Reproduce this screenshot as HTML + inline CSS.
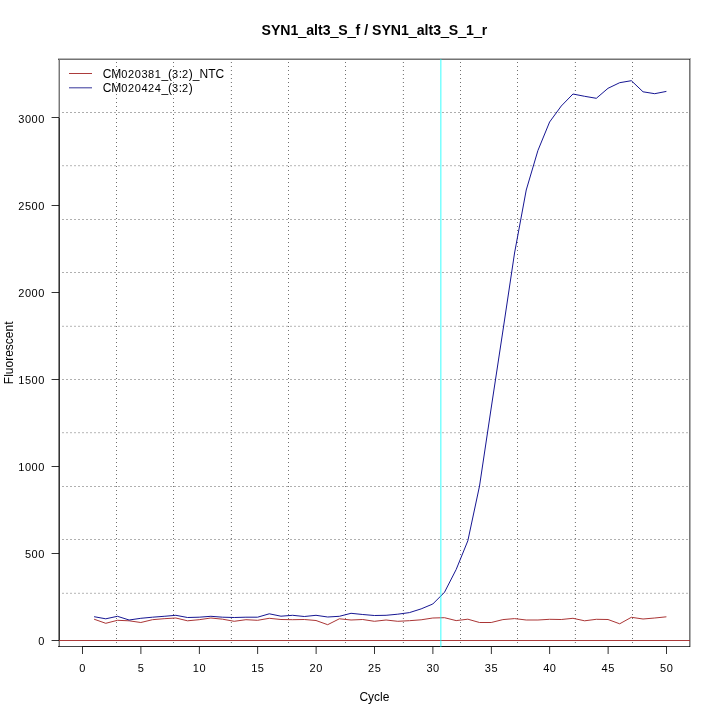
<!DOCTYPE html>
<html><head><meta charset="utf-8"><title>SYN1_alt3_S_f / SYN1_alt3_S_1_r</title>
<style>
html,body{margin:0;padding:0;background:#fff;overflow:hidden;}
svg{display:block;}
text{font-family:"Liberation Sans",Arial,Helvetica,sans-serif;font-size:12px;fill:#000;}
.t{font-weight:bold;font-size:14.1px;}
.d{font-size:11.0px;letter-spacing:0.556px;}
</style></head><body>
<svg width="720" height="720" viewBox="0 0 720 720">
<rect x="0" y="0" width="720" height="720" fill="#fff"/>
<g shape-rendering="crispEdges">
<line x1="116.5" y1="62" x2="116.5" y2="646" stroke="#000" stroke-opacity="0.56" stroke-width="1" stroke-dasharray="1 3"/>
<line x1="173.5" y1="62" x2="173.5" y2="646" stroke="#000" stroke-opacity="0.56" stroke-width="1" stroke-dasharray="1 3"/>
<line x1="230.5" y1="62" x2="230.5" y2="646" stroke="#000" stroke-opacity="0.08" stroke-width="1" stroke-dasharray="1 3"/>
<line x1="231.5" y1="62" x2="231.5" y2="646" stroke="#000" stroke-opacity="0.51" stroke-width="1" stroke-dasharray="1 3"/>
<line x1="288.5" y1="62" x2="288.5" y2="646" stroke="#000" stroke-opacity="0.56" stroke-width="1" stroke-dasharray="1 3"/>
<line x1="345.5" y1="62" x2="345.5" y2="646" stroke="#000" stroke-opacity="0.56" stroke-width="1" stroke-dasharray="1 3"/>
<line x1="402.5" y1="62" x2="402.5" y2="646" stroke="#000" stroke-opacity="0.08" stroke-width="1" stroke-dasharray="1 3"/>
<line x1="403.5" y1="62" x2="403.5" y2="646" stroke="#000" stroke-opacity="0.51" stroke-width="1" stroke-dasharray="1 3"/>
<line x1="460.5" y1="62" x2="460.5" y2="646" stroke="#000" stroke-opacity="0.56" stroke-width="1" stroke-dasharray="1 3"/>
<line x1="517.5" y1="62" x2="517.5" y2="646" stroke="#000" stroke-opacity="0.56" stroke-width="1" stroke-dasharray="1 3"/>
<line x1="574.5" y1="62" x2="574.5" y2="646" stroke="#000" stroke-opacity="0.08" stroke-width="1" stroke-dasharray="1 3"/>
<line x1="575.5" y1="62" x2="575.5" y2="646" stroke="#000" stroke-opacity="0.51" stroke-width="1" stroke-dasharray="1 3"/>
<line x1="632.5" y1="62" x2="632.5" y2="646" stroke="#000" stroke-opacity="0.56" stroke-width="1" stroke-dasharray="1 3"/>
<line x1="62" y1="112.5" x2="688" y2="112.5" stroke="#000" stroke-opacity="0.320" stroke-width="1" stroke-dasharray="2 2"/>
<line x1="62" y1="165.5" x2="688" y2="165.5" stroke="#000" stroke-opacity="0.230" stroke-width="1" stroke-dasharray="2 2"/>
<line x1="62" y1="166.5" x2="688" y2="166.5" stroke="#000" stroke-opacity="0.060" stroke-width="1" stroke-dasharray="2 2"/>
<line x1="62" y1="219.5" x2="688" y2="219.5" stroke="#000" stroke-opacity="0.310" stroke-width="1" stroke-dasharray="2 2"/>
<line x1="62" y1="272.5" x2="688" y2="272.5" stroke="#000" stroke-opacity="0.310" stroke-width="1" stroke-dasharray="2 2"/>
<line x1="62" y1="325.5" x2="688" y2="325.5" stroke="#000" stroke-opacity="0.060" stroke-width="1" stroke-dasharray="2 2"/>
<line x1="62" y1="326.5" x2="688" y2="326.5" stroke="#000" stroke-opacity="0.230" stroke-width="1" stroke-dasharray="2 2"/>
<line x1="62" y1="379.5" x2="688" y2="379.5" stroke="#000" stroke-opacity="0.310" stroke-width="1" stroke-dasharray="2 2"/>
<line x1="62" y1="432.5" x2="688" y2="432.5" stroke="#000" stroke-opacity="0.230" stroke-width="1" stroke-dasharray="2 2"/>
<line x1="62" y1="433.5" x2="688" y2="433.5" stroke="#000" stroke-opacity="0.060" stroke-width="1" stroke-dasharray="2 2"/>
<line x1="62" y1="486.5" x2="688" y2="486.5" stroke="#000" stroke-opacity="0.310" stroke-width="1" stroke-dasharray="2 2"/>
<line x1="62" y1="539.5" x2="688" y2="539.5" stroke="#000" stroke-opacity="0.310" stroke-width="1" stroke-dasharray="2 2"/>
<line x1="62" y1="592.5" x2="688" y2="592.5" stroke="#000" stroke-opacity="0.060" stroke-width="1" stroke-dasharray="2 2"/>
<line x1="62" y1="593.5" x2="688" y2="593.5" stroke="#000" stroke-opacity="0.230" stroke-width="1" stroke-dasharray="2 2"/>
</g>
<polyline fill="none" stroke="#a52a2a" stroke-width="0.95" stroke-linejoin="round" points="94.08,619.20 105.76,623.30 117.44,620.30 129.12,620.80 140.80,622.50 152.48,619.70 164.16,618.70 175.84,618.00 187.52,620.80 199.20,619.70 210.88,618.00 222.56,619.20 234.24,621.30 245.92,619.70 257.60,620.30 269.28,618.30 280.96,619.50 292.64,619.70 304.32,619.50 316.00,620.50 327.68,624.70 339.36,618.80 351.04,620.00 362.72,619.50 374.40,621.30 386.08,620.00 397.76,621.30 409.44,620.70 421.12,619.80 432.80,618.00 444.48,617.70 456.16,620.60 467.84,619.20 479.52,622.50 491.20,622.50 502.88,619.60 514.56,618.60 526.24,620.00 537.92,620.00 549.60,619.30 561.28,619.50 572.96,618.30 584.64,620.80 596.32,619.30 608.00,619.50 619.68,623.80 631.36,617.30 643.04,619.00 654.72,618.00 666.40,616.80"/>
<polyline fill="none" stroke="#0a0a8c" stroke-width="0.95" stroke-linejoin="round" points="94.08,616.70 105.76,618.80 117.44,616.30 129.12,620.00 140.80,618.30 152.48,617.20 164.16,616.30 175.84,615.30 187.52,617.50 199.20,617.20 210.88,616.30 222.56,617.20 234.24,617.50 245.92,617.20 257.60,617.20 269.28,613.80 280.96,616.20 292.64,615.30 304.32,616.50 316.00,615.30 327.68,617.00 339.36,616.30 351.04,613.30 362.72,614.50 374.40,615.50 386.08,615.30 397.76,614.20 409.44,612.60 421.12,608.90 432.80,604.00 444.48,592.30 456.16,569.50 467.84,540.80 479.52,486.00 491.20,408.00 502.88,331.00 514.56,253.00 526.24,190.00 537.92,150.50 549.60,122.00 561.28,106.00 572.96,94.00 584.64,96.30 596.32,98.30 608.00,88.30 619.68,82.70 631.36,80.70 643.04,91.80 654.72,93.70 666.40,91.40"/>
<rect x="58" y="58" width="632" height="1" fill="#000" fill-opacity="0.280"/>
<rect x="58" y="59" width="632" height="1" fill="#000" fill-opacity="0.550"/>
<rect x="689" y="59" width="1" height="588" fill="#000" fill-opacity="0.530"/>
<rect x="690" y="58" width="1" height="589" fill="#000" fill-opacity="0.310"/>
<rect x="58" y="59" width="1" height="588" fill="#000" fill-opacity="0.250"/>
<rect x="59" y="60" width="1" height="587" fill="#000" fill-opacity="0.530"/>
<rect x="58" y="646" width="632" height="1" fill="#000" fill-opacity="0.730"/>
<rect x="58" y="118" width="1" height="523" fill="#000" fill-opacity="0.280"/>
<rect x="59" y="118" width="1" height="523" fill="#000" fill-opacity="0.570"/>
<rect x="82" y="646" width="585" height="1" fill="#000" fill-opacity="0.740"/>
<rect x="59" y="640" width="631" height="1" fill="#a52a2a" fill-opacity="0.920"/>
<rect x="82" y="647" width="1" height="7" fill="#000" fill-opacity="0.800"/>
<rect x="140" y="647" width="1" height="7" fill="#000" fill-opacity="0.500"/>
<rect x="141" y="647" width="1" height="7" fill="#000" fill-opacity="0.300"/>
<rect x="198" y="647" width="1" height="7" fill="#000" fill-opacity="0.100"/>
<rect x="199" y="647" width="1" height="7" fill="#000" fill-opacity="0.700"/>
<rect x="257" y="647" width="1" height="7" fill="#000" fill-opacity="0.700"/>
<rect x="258" y="647" width="1" height="7" fill="#000" fill-opacity="0.100"/>
<rect x="315" y="647" width="1" height="7" fill="#000" fill-opacity="0.300"/>
<rect x="316" y="647" width="1" height="7" fill="#000" fill-opacity="0.500"/>
<rect x="374" y="647" width="1" height="7" fill="#000" fill-opacity="0.800"/>
<rect x="432" y="647" width="1" height="7" fill="#000" fill-opacity="0.500"/>
<rect x="433" y="647" width="1" height="7" fill="#000" fill-opacity="0.300"/>
<rect x="490" y="647" width="1" height="7" fill="#000" fill-opacity="0.100"/>
<rect x="491" y="647" width="1" height="7" fill="#000" fill-opacity="0.700"/>
<rect x="549" y="647" width="1" height="7" fill="#000" fill-opacity="0.700"/>
<rect x="550" y="647" width="1" height="7" fill="#000" fill-opacity="0.100"/>
<rect x="607" y="647" width="1" height="7" fill="#000" fill-opacity="0.300"/>
<rect x="608" y="647" width="1" height="7" fill="#000" fill-opacity="0.500"/>
<rect x="666" y="647" width="1" height="7" fill="#000" fill-opacity="0.800"/>
<rect x="52" y="640" width="7" height="1" fill="#000" fill-opacity="0.800"/>
<rect x="51" y="640" width="1" height="1" fill="#000" fill-opacity="0.350"/>
<rect x="52" y="553" width="7" height="1" fill="#000" fill-opacity="0.800"/>
<rect x="51" y="553" width="1" height="1" fill="#000" fill-opacity="0.350"/>
<rect x="52" y="466" width="7" height="1" fill="#000" fill-opacity="0.800"/>
<rect x="51" y="466" width="1" height="1" fill="#000" fill-opacity="0.350"/>
<rect x="52" y="379" width="7" height="1" fill="#000" fill-opacity="0.800"/>
<rect x="51" y="379" width="1" height="1" fill="#000" fill-opacity="0.350"/>
<rect x="52" y="292" width="7" height="1" fill="#000" fill-opacity="0.800"/>
<rect x="51" y="292" width="1" height="1" fill="#000" fill-opacity="0.350"/>
<rect x="52" y="205" width="7" height="1" fill="#000" fill-opacity="0.800"/>
<rect x="51" y="205" width="1" height="1" fill="#000" fill-opacity="0.350"/>
<rect x="52" y="117" width="7" height="1" fill="#000" fill-opacity="0.800"/>
<rect x="51" y="117" width="1" height="1" fill="#000" fill-opacity="0.350"/>
<g>
<text class="d" x="82.68" y="672.3" text-anchor="middle">0</text>
<text class="d" x="141.08" y="672.3" text-anchor="middle">5</text>
<text class="d" x="199.48" y="672.3" text-anchor="middle">10</text>
<text class="d" x="257.88" y="672.3" text-anchor="middle">15</text>
<text class="d" x="316.28" y="672.3" text-anchor="middle">20</text>
<text class="d" x="374.68" y="672.3" text-anchor="middle">25</text>
<text class="d" x="433.08" y="672.3" text-anchor="middle">30</text>
<text class="d" x="491.48" y="672.3" text-anchor="middle">35</text>
<text class="d" x="549.88" y="672.3" text-anchor="middle">40</text>
<text class="d" x="608.28" y="672.3" text-anchor="middle">45</text>
<text class="d" x="666.68" y="672.3" text-anchor="middle">50</text>
<text class="d" x="44.96" y="644.90" text-anchor="end">0</text>
<text class="d" x="44.96" y="557.85" text-anchor="end">500</text>
<text class="d" x="44.96" y="470.80" text-anchor="end">1000</text>
<text class="d" x="44.96" y="383.75" text-anchor="end">1500</text>
<text class="d" x="44.96" y="296.70" text-anchor="end">2000</text>
<text class="d" x="44.96" y="209.65" text-anchor="end">2500</text>
<text class="d" x="44.96" y="122.60" text-anchor="end">3000</text>
</g>
<text class="t" x="374.4" y="34.7" text-anchor="middle">SYN1<tspan dy="1.1" stroke="#000" stroke-width="0.45">_</tspan><tspan dy="-1.1">alt3</tspan><tspan dy="1.1" stroke="#000" stroke-width="0.45">_</tspan><tspan dy="-1.1">S</tspan><tspan dy="1.1" stroke="#000" stroke-width="0.45">_</tspan><tspan dy="-1.1">f / SYN1</tspan><tspan dy="1.1" stroke="#000" stroke-width="0.45">_</tspan><tspan dy="-1.1">alt3</tspan><tspan dy="1.1" stroke="#000" stroke-width="0.45">_</tspan><tspan dy="-1.1">S</tspan><tspan dy="1.1" stroke="#000" stroke-width="0.45">_</tspan><tspan dy="-1.1">1</tspan><tspan dy="1.1" stroke="#000" stroke-width="0.45">_</tspan><tspan dy="-1.1">r</tspan></text>
<text x="374.4" y="700.9" text-anchor="middle">Cycle</text>
<text x="0" y="0" text-anchor="middle" transform="translate(13.3 352.8) rotate(-90)">Fluorescent</text>
<rect x="69" y="73" width="23" height="1" fill="#a52a2a" fill-opacity="0.920"/>
<rect x="69" y="87" width="23" height="1" fill="#000080" fill-opacity="0.550"/>
<rect x="69" y="88" width="23" height="1" fill="#000080" fill-opacity="0.250"/>
<text x="102.7" y="78.1">CM<tspan class="d">020381</tspan>_(<tspan class="d">3</tspan>:<tspan class="d">2</tspan>)_NTC</text>
<text x="102.7" y="92">CM<tspan class="d">020424</tspan>_(<tspan class="d">3</tspan>:<tspan class="d">2</tspan>)</text>
<rect x="440" y="59" width="1" height="588" fill="#00ffff" fill-opacity="0.500"/>
<rect x="441" y="59" width="1" height="588" fill="#00ffff" fill-opacity="0.280"/>
</svg>
</body></html>
